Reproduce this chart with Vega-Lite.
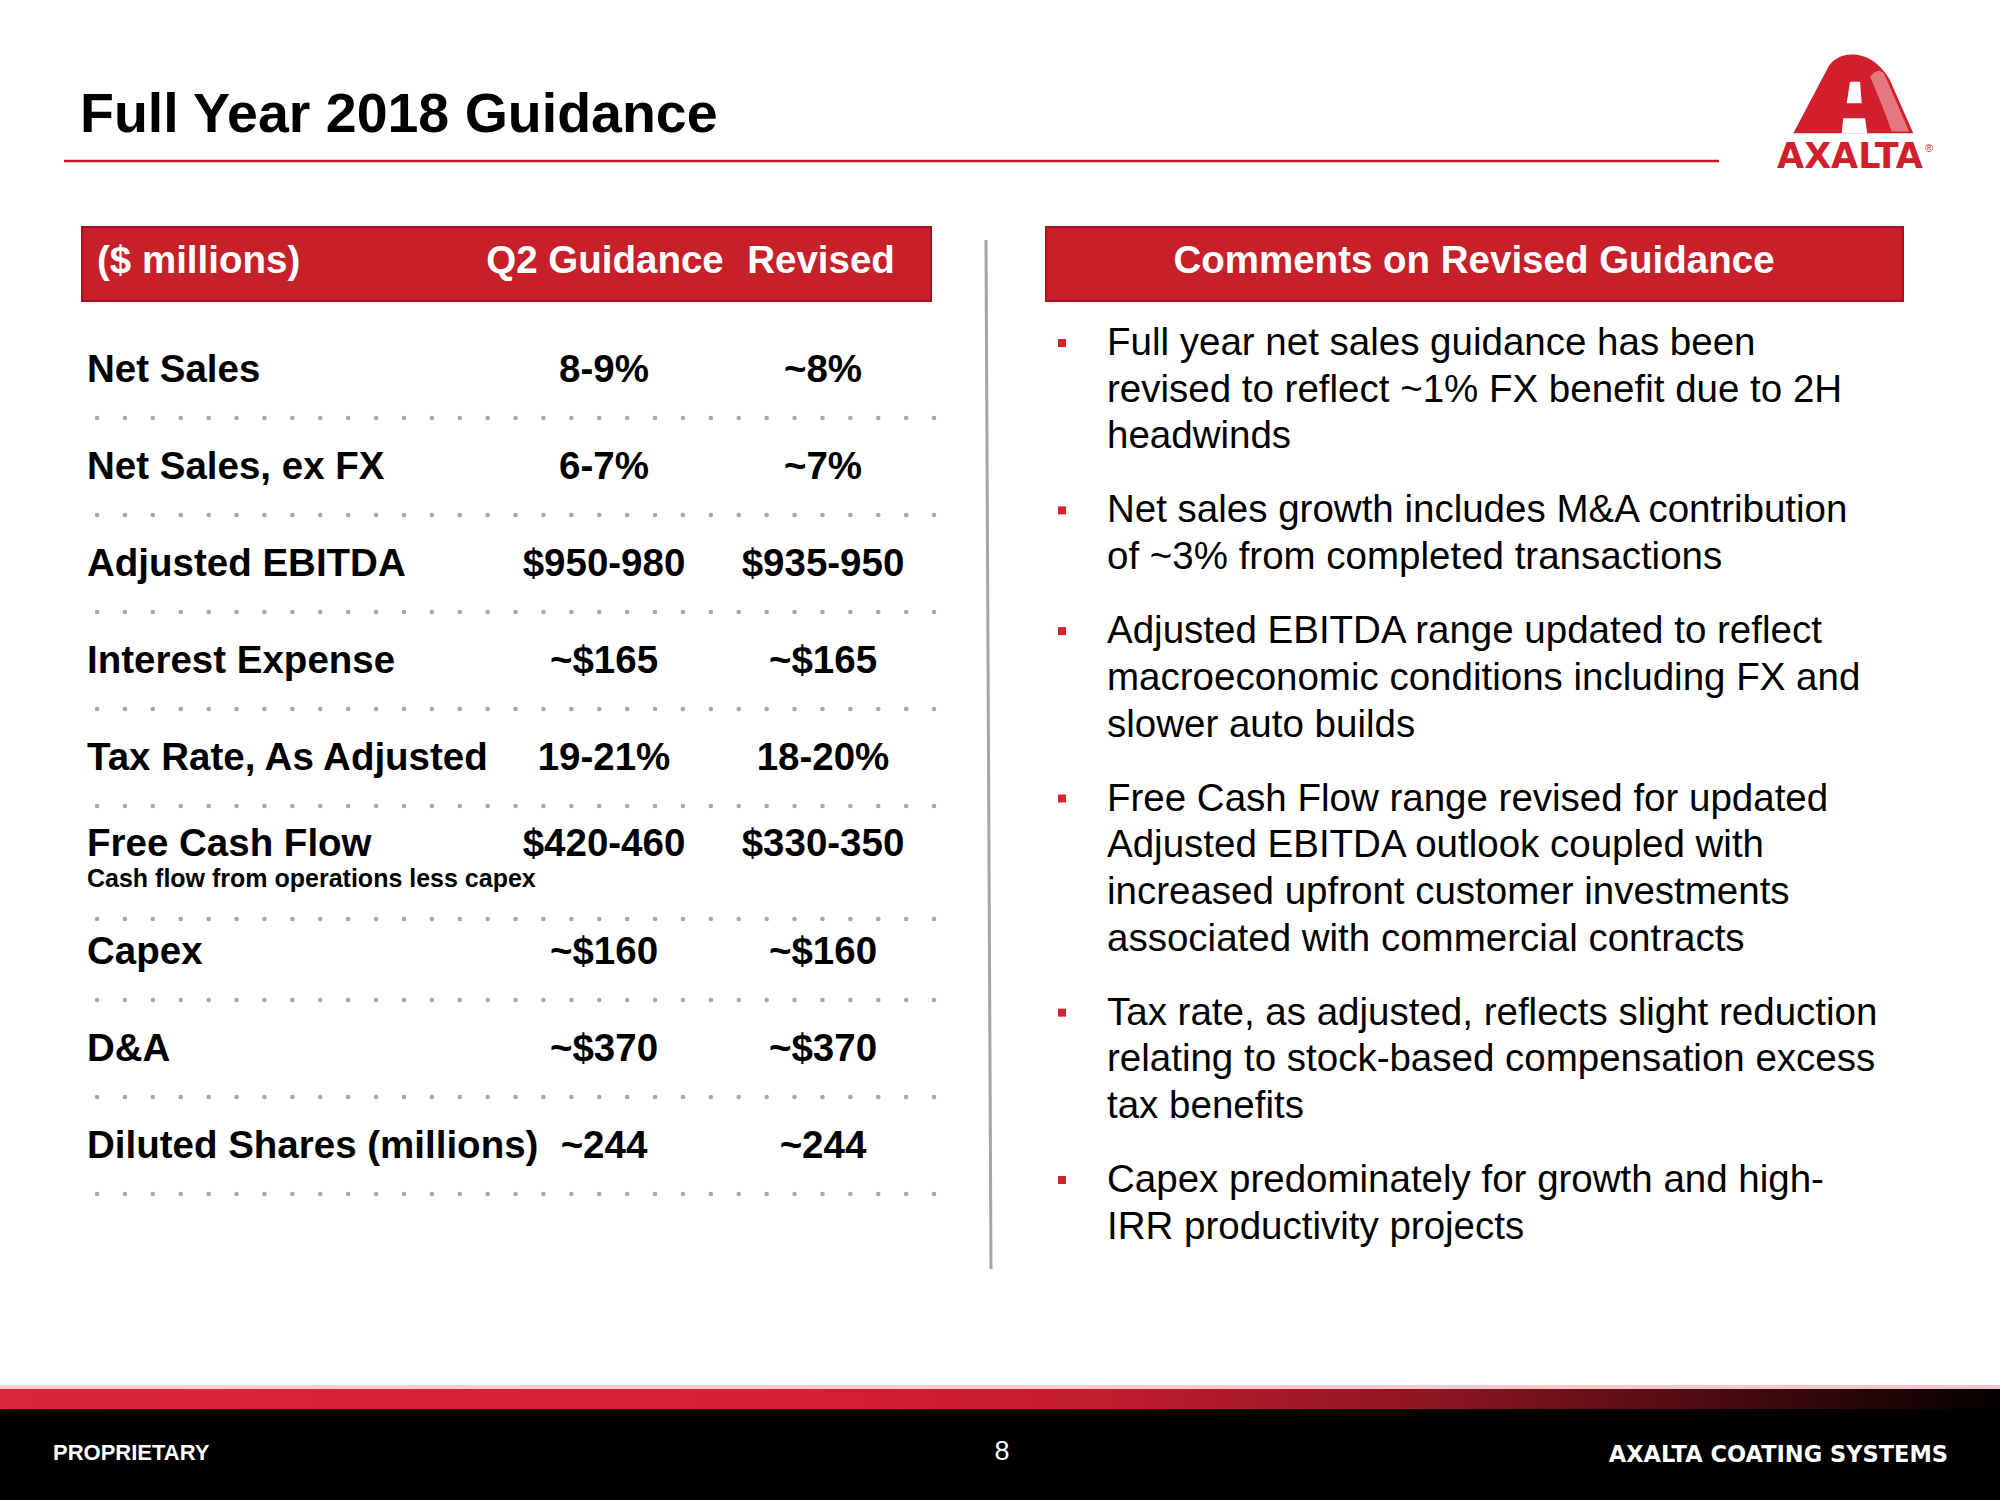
{
  "$schema": "https://vega.github.io/schema/vega-lite/v6.json",
  "width": 2000,
  "height": 1500,
  "padding": 0,
  "autosize": {"type": "fit", "contains": "padding"},
  "background": "#ffffff",
  "config": {"view": {"stroke": null}, "font": "Liberation Sans"},
  "datasets": {
    "guidance": [
      {"row": 1, "metric": "Net Sales", "q2": "8-9%", "revised": "~8%"},
      {"row": 2, "metric": "Net Sales, ex FX", "q2": "6-7%", "revised": "~7%"},
      {"row": 3, "metric": "Adjusted EBITDA", "q2": "$950-980", "revised": "$935-950"},
      {"row": 4, "metric": "Interest Expense", "q2": "~$165", "revised": "~$165"},
      {"row": 5, "metric": "Tax Rate, As Adjusted", "q2": "19-21%", "revised": "18-20%"},
      {"row": 6, "metric": "Free Cash Flow", "q2": "$420-460", "revised": "$330-350", "note": "Cash flow from operations less capex"},
      {"row": 7, "metric": "Capex", "q2": "~$160", "revised": "~$160"},
      {"row": 8, "metric": "D&A", "q2": "~$370", "revised": "~$370"},
      {"row": 9, "metric": "Diluted Shares (millions)", "q2": "~244", "revised": "~244"}
    ],
    "comments": [
      {"bullet": 1, "line": 1, "n": 1, "text": "Full year net sales guidance has been"},
      {"bullet": 1, "line": 2, "n": 2, "text": "revised to reflect ~1% FX benefit due to 2H"},
      {"bullet": 1, "line": 3, "n": 3, "text": "headwinds"},
      {"bullet": 2, "line": 1, "n": 4, "text": "Net sales growth includes M&A contribution"},
      {"bullet": 2, "line": 2, "n": 5, "text": "of ~3% from completed transactions"},
      {"bullet": 3, "line": 1, "n": 6, "text": "Adjusted EBITDA range updated to reflect"},
      {"bullet": 3, "line": 2, "n": 7, "text": "macroeconomic conditions including FX and"},
      {"bullet": 3, "line": 3, "n": 8, "text": "slower auto builds"},
      {"bullet": 4, "line": 1, "n": 9, "text": "Free Cash Flow range revised for updated"},
      {"bullet": 4, "line": 2, "n": 10, "text": "Adjusted EBITDA outlook coupled with"},
      {"bullet": 4, "line": 3, "n": 11, "text": "increased upfront customer investments"},
      {"bullet": 4, "line": 4, "n": 12, "text": "associated with commercial contracts"},
      {"bullet": 5, "line": 1, "n": 13, "text": "Tax rate, as adjusted, reflects slight reduction"},
      {"bullet": 5, "line": 2, "n": 14, "text": "relating to stock-based compensation excess"},
      {"bullet": 5, "line": 3, "n": 15, "text": "tax benefits"},
      {"bullet": 6, "line": 1, "n": 16, "text": "Capex predominately for growth and high-"},
      {"bullet": 6, "line": 2, "n": 17, "text": "IRR productivity projects"}
    ]
  },
  "resolve": {"scale": {"y": "independent"}},
  "layer": [
    {
      "data": {"values": [{}]},
      "layer": [
        {
          "mark": {"type": "rect", "fill": "#c8202b", "stroke": "#a8141c", "strokeWidth": 2},
          "encoding": {
            "x": {"datum": 82, "type": "quantitative", "scale": {"domain": [0, 2000], "nice": false, "zero": false}, "axis": null},
            "x2": {"datum": 931},
            "y": {"datum": 227, "type": "quantitative", "scale": {"domain": [0, 1500], "nice": false, "zero": false, "reverse": true}, "axis": null},
            "y2": {"datum": 301}
          }
        },
        {
          "mark": {"type": "rect", "fill": "#c8202b", "stroke": "#a8141c", "strokeWidth": 2},
          "encoding": {
            "x": {"datum": 1046, "type": "quantitative", "scale": {"domain": [0, 2000], "nice": false, "zero": false}, "axis": null},
            "x2": {"datum": 1903},
            "y": {"datum": 227, "type": "quantitative", "scale": {"domain": [0, 1500], "nice": false, "zero": false, "reverse": true}, "axis": null},
            "y2": {"datum": 301}
          }
        },
        {
          "mark": {"type": "text", "text": "($ millions)", "align": "left", "baseline": "middle", "fontSize": 38.5, "fontWeight": "bold", "fill": "#ffffff"},
          "encoding": {
            "x": {"datum": 97, "type": "quantitative", "scale": {"domain": [0, 2000], "nice": false, "zero": false}, "axis": null},
            "y": {"datum": 261, "type": "quantitative", "scale": {"domain": [0, 1500], "nice": false, "zero": false, "reverse": true}, "axis": null}
          }
        },
        {
          "mark": {"type": "text", "text": "Q2 Guidance", "align": "center", "baseline": "middle", "fontSize": 38.5, "fontWeight": "bold", "fill": "#ffffff"},
          "encoding": {
            "x": {"datum": 605, "type": "quantitative", "scale": {"domain": [0, 2000], "nice": false, "zero": false}, "axis": null},
            "y": {"datum": 261, "type": "quantitative", "scale": {"domain": [0, 1500], "nice": false, "zero": false, "reverse": true}, "axis": null}
          }
        },
        {
          "mark": {"type": "text", "text": "Revised", "align": "center", "baseline": "middle", "fontSize": 38.5, "fontWeight": "bold", "fill": "#ffffff"},
          "encoding": {
            "x": {"datum": 821, "type": "quantitative", "scale": {"domain": [0, 2000], "nice": false, "zero": false}, "axis": null},
            "y": {"datum": 261, "type": "quantitative", "scale": {"domain": [0, 1500], "nice": false, "zero": false, "reverse": true}, "axis": null}
          }
        },
        {
          "mark": {"type": "text", "text": "Comments on Revised Guidance", "align": "center", "baseline": "middle", "fontSize": 38.5, "fontWeight": "bold", "fill": "#ffffff"},
          "encoding": {
            "x": {"datum": 1474, "type": "quantitative", "scale": {"domain": [0, 2000], "nice": false, "zero": false}, "axis": null},
            "y": {"datum": 261, "type": "quantitative", "scale": {"domain": [0, 1500], "nice": false, "zero": false, "reverse": true}, "axis": null}
          }
        },
        {
          "mark": {"type": "text", "text": "Full Year 2018 Guidance", "align": "left", "baseline": "alphabetic", "fontSize": 55.5, "fontWeight": "bold", "fill": "#000000"},
          "encoding": {
            "x": {"datum": 80, "type": "quantitative", "scale": {"domain": [0, 2000], "nice": false, "zero": false}, "axis": null},
            "y": {"datum": 132, "type": "quantitative", "scale": {"domain": [0, 1500], "nice": false, "zero": false, "reverse": true}, "axis": null}
          }
        },
        {
          "mark": {"type": "rule", "stroke": "#c8102e", "strokeWidth": 2.5},
          "encoding": {
            "x": {"datum": 64, "type": "quantitative", "scale": {"domain": [0, 2000], "nice": false, "zero": false}, "axis": null},
            "x2": {"datum": 1719},
            "y": {"datum": 161, "type": "quantitative", "scale": {"domain": [0, 1500], "nice": false, "zero": false, "reverse": true}, "axis": null}
          }
        },
        {
          "mark": {"type": "rule", "stroke": "#a6a6a6", "strokeWidth": 3},
          "encoding": {
            "x": {"datum": 986, "type": "quantitative", "scale": {"domain": [0, 2000], "nice": false, "zero": false}, "axis": null},
            "x2": {"datum": 991},
            "y": {"datum": 240, "type": "quantitative", "scale": {"domain": [0, 1500], "nice": false, "zero": false, "reverse": true}, "axis": null},
            "y2": {"datum": 1269}
          }
        },
        {
          "mark": {"type": "point", "shape": "M -1 0.652 L -0.443 -0.403 C -0.3 -0.75 0.3 -0.8 0.61 -0.237 L 1 0.652 Z", "size": 14400, "filled": true, "fill": "#d21f2e", "strokeWidth": 0, "opacity": 1},
          "encoding": {
            "x": {"datum": 1853.3, "type": "quantitative", "scale": {"domain": [0, 2000], "nice": false, "zero": false}, "axis": null},
            "y": {"datum": 94.2, "type": "quantitative", "scale": {"domain": [0, 1500], "nice": false, "zero": false, "reverse": true}, "axis": null}
          }
        },
        {
          "mark": {"type": "point", "shape": "M 0.28 -0.29 Q 0.42 -0.47 0.52 -0.33 L 0.93 0.62 L 0.64 0.62 Q 0.45 0.1 0.28 -0.29 Z", "size": 14400, "filled": true, "fill": "#ffffff", "strokeWidth": 0, "opacity": 0.4},
          "encoding": {
            "x": {"datum": 1853.3, "type": "quantitative", "scale": {"domain": [0, 2000], "nice": false, "zero": false}, "axis": null},
            "y": {"datum": 94.2, "type": "quantitative", "scale": {"domain": [0, 1500], "nice": false, "zero": false, "reverse": true}, "axis": null}
          }
        },
        {
          "mark": {"type": "point", "shape": "M -0.055 -0.208 L 0.112 -0.208 L 0.14 0.152 L -0.11 0.152 Z M -0.167 0.402 L 0.195 0.402 L 0.233 0.652 L -0.193 0.652 Z", "size": 14400, "filled": true, "fill": "#ffffff", "strokeWidth": 0, "opacity": 1},
          "encoding": {
            "x": {"datum": 1853.3, "type": "quantitative", "scale": {"domain": [0, 2000], "nice": false, "zero": false}, "axis": null},
            "y": {"datum": 94.2, "type": "quantitative", "scale": {"domain": [0, 1500], "nice": false, "zero": false, "reverse": true}, "axis": null}
          }
        },
        {
          "mark": {"type": "text", "text": "AXALTA", "align": "center", "baseline": "alphabetic", "font": "DejaVu Sans", "fontSize": 35, "fontWeight": "bold", "fill": "#d21f2e"},
          "encoding": {
            "x": {"datum": 1850, "type": "quantitative", "scale": {"domain": [0, 2000], "nice": false, "zero": false}, "axis": null},
            "y": {"datum": 168, "type": "quantitative", "scale": {"domain": [0, 1500], "nice": false, "zero": false, "reverse": true}, "axis": null}
          }
        },
        {
          "mark": {"type": "text", "text": "®", "align": "left", "baseline": "top", "fontSize": 11, "fill": "#d21f2e"},
          "encoding": {
            "x": {"datum": 1925, "type": "quantitative", "scale": {"domain": [0, 2000], "nice": false, "zero": false}, "axis": null},
            "y": {"datum": 143, "type": "quantitative", "scale": {"domain": [0, 1500], "nice": false, "zero": false, "reverse": true}, "axis": null}
          }
        },
        {
          "mark": {"type": "rect", "fill": {"gradient": "linear", "stops": [{"offset": 0, "color": "#f6d3d7"}, {"offset": 1, "color": "#f2c4c9"}]}},
          "encoding": {
            "x": {"datum": 0, "type": "quantitative", "scale": {"domain": [0, 2000], "nice": false, "zero": false}, "axis": null},
            "x2": {"datum": 2000},
            "y": {"datum": 1385, "type": "quantitative", "scale": {"domain": [0, 1500], "nice": false, "zero": false, "reverse": true}, "axis": null},
            "y2": {"datum": 1389}
          }
        },
        {
          "mark": {"type": "rect", "fill": {"gradient": "linear", "stops": [{"offset": 0, "color": "#d8263a"}, {"offset": 0.4, "color": "#d61f32"}, {"offset": 0.55, "color": "#c21d2d"}, {"offset": 0.72, "color": "#8c1520"}, {"offset": 0.87, "color": "#450a0e"}, {"offset": 1, "color": "#050000"}]}},
          "encoding": {
            "x": {"datum": 0, "type": "quantitative", "scale": {"domain": [0, 2000], "nice": false, "zero": false}, "axis": null},
            "x2": {"datum": 2000},
            "y": {"datum": 1389, "type": "quantitative", "scale": {"domain": [0, 1500], "nice": false, "zero": false, "reverse": true}, "axis": null},
            "y2": {"datum": 1409}
          }
        },
        {
          "mark": {"type": "rect", "fill": "#000000"},
          "encoding": {
            "x": {"datum": 0, "type": "quantitative", "scale": {"domain": [0, 2000], "nice": false, "zero": false}, "axis": null},
            "x2": {"datum": 2000},
            "y": {"datum": 1409, "type": "quantitative", "scale": {"domain": [0, 1500], "nice": false, "zero": false, "reverse": true}, "axis": null},
            "y2": {"datum": 1500}
          }
        },
        {
          "mark": {"type": "text", "text": "PROPRIETARY", "align": "left", "baseline": "middle", "fontSize": 22, "fontWeight": "bold", "fill": "#ffffff"},
          "encoding": {
            "x": {"datum": 53, "type": "quantitative", "scale": {"domain": [0, 2000], "nice": false, "zero": false}, "axis": null},
            "y": {"datum": 1453, "type": "quantitative", "scale": {"domain": [0, 1500], "nice": false, "zero": false, "reverse": true}, "axis": null}
          }
        },
        {
          "mark": {"type": "text", "text": "8", "align": "center", "baseline": "middle", "fontSize": 27, "fill": "#ffffff"},
          "encoding": {
            "x": {"datum": 1002, "type": "quantitative", "scale": {"domain": [0, 2000], "nice": false, "zero": false}, "axis": null},
            "y": {"datum": 1452, "type": "quantitative", "scale": {"domain": [0, 1500], "nice": false, "zero": false, "reverse": true}, "axis": null}
          }
        },
        {
          "mark": {"type": "text", "text": "AXALTA COATING SYSTEMS", "align": "right", "baseline": "middle", "font": "DejaVu Sans", "fontSize": 22.5, "fontWeight": "bold", "fill": "#ffffff"},
          "encoding": {
            "x": {"datum": 1948, "type": "quantitative", "scale": {"domain": [0, 2000], "nice": false, "zero": false}, "axis": null},
            "y": {"datum": 1455, "type": "quantitative", "scale": {"domain": [0, 1500], "nice": false, "zero": false, "reverse": true}, "axis": null}
          }
        }
      ]
    },
    {
      "data": {"name": "guidance"},
      "layer": [
        {
          "transform": [{"filter": "datum.row != 6"}],
          "layer": [
            {
              "mark": {"type": "text", "align": "left", "baseline": "middle", "fontSize": 38.5, "fontWeight": "bold", "fill": "#000000"},
              "encoding": {
                "x": {"datum": 87, "type": "quantitative", "scale": {"domain": [0, 2000], "nice": false, "zero": false}, "axis": null},
                "y": {"field": "row", "type": "quantitative", "scale": {"domain": [1, 9], "range": [370, 1146], "nice": false, "zero": false}, "axis": null},
                "text": {"field": "metric"}
              }
            },
            {
              "mark": {"type": "text", "align": "center", "baseline": "middle", "fontSize": 38.5, "fontWeight": "bold", "fill": "#000000"},
              "encoding": {
                "x": {"datum": 604, "type": "quantitative", "scale": {"domain": [0, 2000], "nice": false, "zero": false}, "axis": null},
                "y": {"field": "row", "type": "quantitative", "scale": {"domain": [1, 9], "range": [370, 1146], "nice": false, "zero": false}, "axis": null},
                "text": {"field": "q2"}
              }
            },
            {
              "mark": {"type": "text", "align": "center", "baseline": "middle", "fontSize": 38.5, "fontWeight": "bold", "fill": "#000000"},
              "encoding": {
                "x": {"datum": 823, "type": "quantitative", "scale": {"domain": [0, 2000], "nice": false, "zero": false}, "axis": null},
                "y": {"field": "row", "type": "quantitative", "scale": {"domain": [1, 9], "range": [370, 1146], "nice": false, "zero": false}, "axis": null},
                "text": {"field": "revised"}
              }
            },
            {
              "mark": {"type": "rule", "stroke": "#a8a8a8", "strokeWidth": 4.5, "strokeCap": "round", "strokeDash": [0.1, 27.8], "yOffset": 48},
              "encoding": {
                "x": {"datum": 97, "type": "quantitative", "scale": {"domain": [0, 2000], "nice": false, "zero": false}, "axis": null},
                "x2": {"datum": 935},
                "y": {"field": "row", "type": "quantitative", "scale": {"domain": [1, 9], "range": [370, 1146], "nice": false, "zero": false}, "axis": null}
              }
            }
          ]
        },
        {
          "transform": [{"filter": "datum.row == 6"}],
          "layer": [
            {
              "mark": {"type": "text", "align": "left", "baseline": "middle", "fontSize": 38.5, "fontWeight": "bold", "fill": "#000000", "yOffset": -11},
              "encoding": {
                "x": {"datum": 87, "type": "quantitative", "scale": {"domain": [0, 2000], "nice": false, "zero": false}, "axis": null},
                "y": {"field": "row", "type": "quantitative", "scale": {"domain": [1, 9], "range": [370, 1146], "nice": false, "zero": false}, "axis": null},
                "text": {"field": "metric"}
              }
            },
            {
              "mark": {"type": "text", "align": "left", "baseline": "middle", "fontSize": 25, "fontWeight": "bold", "fill": "#000000", "yOffset": 24},
              "encoding": {
                "x": {"datum": 87, "type": "quantitative", "scale": {"domain": [0, 2000], "nice": false, "zero": false}, "axis": null},
                "y": {"field": "row", "type": "quantitative", "scale": {"domain": [1, 9], "range": [370, 1146], "nice": false, "zero": false}, "axis": null},
                "text": {"field": "note"}
              }
            },
            {
              "mark": {"type": "text", "align": "center", "baseline": "middle", "fontSize": 38.5, "fontWeight": "bold", "fill": "#000000", "yOffset": -11},
              "encoding": {
                "x": {"datum": 604, "type": "quantitative", "scale": {"domain": [0, 2000], "nice": false, "zero": false}, "axis": null},
                "y": {"field": "row", "type": "quantitative", "scale": {"domain": [1, 9], "range": [370, 1146], "nice": false, "zero": false}, "axis": null},
                "text": {"field": "q2"}
              }
            },
            {
              "mark": {"type": "text", "align": "center", "baseline": "middle", "fontSize": 38.5, "fontWeight": "bold", "fill": "#000000", "yOffset": -11},
              "encoding": {
                "x": {"datum": 823, "type": "quantitative", "scale": {"domain": [0, 2000], "nice": false, "zero": false}, "axis": null},
                "y": {"field": "row", "type": "quantitative", "scale": {"domain": [1, 9], "range": [370, 1146], "nice": false, "zero": false}, "axis": null},
                "text": {"field": "revised"}
              }
            },
            {
              "mark": {"type": "rule", "stroke": "#a8a8a8", "strokeWidth": 4.5, "strokeCap": "round", "strokeDash": [0.1, 27.8], "yOffset": 64},
              "encoding": {
                "x": {"datum": 97, "type": "quantitative", "scale": {"domain": [0, 2000], "nice": false, "zero": false}, "axis": null},
                "x2": {"datum": 935},
                "y": {"field": "row", "type": "quantitative", "scale": {"domain": [1, 9], "range": [370, 1146], "nice": false, "zero": false}, "axis": null}
              }
            }
          ]
        }
      ]
    },
    {
      "data": {"name": "comments"},
      "layer": [
        {
          "transform": [{"filter": "datum.bullet == 1"}],
          "layer": [
            {
              "mark": {"type": "text", "align": "left", "baseline": "middle", "fontSize": 38.5, "fill": "#000000", "yOffset": 0},
              "encoding": {
                "x": {"datum": 1107, "type": "quantitative", "scale": {"domain": [0, 2000], "nice": false, "zero": false}, "axis": null},
                "y": {"field": "n", "type": "quantitative", "scale": {"domain": [1, 17], "range": [343, 1090.2], "nice": false, "zero": false}, "axis": null},
                "text": {"field": "text"}
              }
            },
            {
              "transform": [{"filter": "datum.line == 1"}],
              "mark": {"type": "point", "shape": "square", "size": 64, "filled": true, "fill": "#d9222f", "strokeWidth": 0, "opacity": 1, "yOffset": 0},
              "encoding": {
                "x": {"datum": 1062, "type": "quantitative", "scale": {"domain": [0, 2000], "nice": false, "zero": false}, "axis": null},
                "y": {"field": "n", "type": "quantitative", "scale": {"domain": [1, 17], "range": [343, 1090.2], "nice": false, "zero": false}, "axis": null}
              }
            }
          ]
        },
        {
          "transform": [{"filter": "datum.bullet == 2"}],
          "layer": [
            {
              "mark": {"type": "text", "align": "left", "baseline": "middle", "fontSize": 38.5, "fill": "#000000", "yOffset": 27.3},
              "encoding": {
                "x": {"datum": 1107, "type": "quantitative", "scale": {"domain": [0, 2000], "nice": false, "zero": false}, "axis": null},
                "y": {"field": "n", "type": "quantitative", "scale": {"domain": [1, 17], "range": [343, 1090.2], "nice": false, "zero": false}, "axis": null},
                "text": {"field": "text"}
              }
            },
            {
              "transform": [{"filter": "datum.line == 1"}],
              "mark": {"type": "point", "shape": "square", "size": 64, "filled": true, "fill": "#d9222f", "strokeWidth": 0, "opacity": 1, "yOffset": 27.3},
              "encoding": {
                "x": {"datum": 1062, "type": "quantitative", "scale": {"domain": [0, 2000], "nice": false, "zero": false}, "axis": null},
                "y": {"field": "n", "type": "quantitative", "scale": {"domain": [1, 17], "range": [343, 1090.2], "nice": false, "zero": false}, "axis": null}
              }
            }
          ]
        },
        {
          "transform": [{"filter": "datum.bullet == 3"}],
          "layer": [
            {
              "mark": {"type": "text", "align": "left", "baseline": "middle", "fontSize": 38.5, "fill": "#000000", "yOffset": 54.6},
              "encoding": {
                "x": {"datum": 1107, "type": "quantitative", "scale": {"domain": [0, 2000], "nice": false, "zero": false}, "axis": null},
                "y": {"field": "n", "type": "quantitative", "scale": {"domain": [1, 17], "range": [343, 1090.2], "nice": false, "zero": false}, "axis": null},
                "text": {"field": "text"}
              }
            },
            {
              "transform": [{"filter": "datum.line == 1"}],
              "mark": {"type": "point", "shape": "square", "size": 64, "filled": true, "fill": "#d9222f", "strokeWidth": 0, "opacity": 1, "yOffset": 54.6},
              "encoding": {
                "x": {"datum": 1062, "type": "quantitative", "scale": {"domain": [0, 2000], "nice": false, "zero": false}, "axis": null},
                "y": {"field": "n", "type": "quantitative", "scale": {"domain": [1, 17], "range": [343, 1090.2], "nice": false, "zero": false}, "axis": null}
              }
            }
          ]
        },
        {
          "transform": [{"filter": "datum.bullet == 4"}],
          "layer": [
            {
              "mark": {"type": "text", "align": "left", "baseline": "middle", "fontSize": 38.5, "fill": "#000000", "yOffset": 81.9},
              "encoding": {
                "x": {"datum": 1107, "type": "quantitative", "scale": {"domain": [0, 2000], "nice": false, "zero": false}, "axis": null},
                "y": {"field": "n", "type": "quantitative", "scale": {"domain": [1, 17], "range": [343, 1090.2], "nice": false, "zero": false}, "axis": null},
                "text": {"field": "text"}
              }
            },
            {
              "transform": [{"filter": "datum.line == 1"}],
              "mark": {"type": "point", "shape": "square", "size": 64, "filled": true, "fill": "#d9222f", "strokeWidth": 0, "opacity": 1, "yOffset": 81.9},
              "encoding": {
                "x": {"datum": 1062, "type": "quantitative", "scale": {"domain": [0, 2000], "nice": false, "zero": false}, "axis": null},
                "y": {"field": "n", "type": "quantitative", "scale": {"domain": [1, 17], "range": [343, 1090.2], "nice": false, "zero": false}, "axis": null}
              }
            }
          ]
        },
        {
          "transform": [{"filter": "datum.bullet == 5"}],
          "layer": [
            {
              "mark": {"type": "text", "align": "left", "baseline": "middle", "fontSize": 38.5, "fill": "#000000", "yOffset": 109.2},
              "encoding": {
                "x": {"datum": 1107, "type": "quantitative", "scale": {"domain": [0, 2000], "nice": false, "zero": false}, "axis": null},
                "y": {"field": "n", "type": "quantitative", "scale": {"domain": [1, 17], "range": [343, 1090.2], "nice": false, "zero": false}, "axis": null},
                "text": {"field": "text"}
              }
            },
            {
              "transform": [{"filter": "datum.line == 1"}],
              "mark": {"type": "point", "shape": "square", "size": 64, "filled": true, "fill": "#d9222f", "strokeWidth": 0, "opacity": 1, "yOffset": 109.2},
              "encoding": {
                "x": {"datum": 1062, "type": "quantitative", "scale": {"domain": [0, 2000], "nice": false, "zero": false}, "axis": null},
                "y": {"field": "n", "type": "quantitative", "scale": {"domain": [1, 17], "range": [343, 1090.2], "nice": false, "zero": false}, "axis": null}
              }
            }
          ]
        },
        {
          "transform": [{"filter": "datum.bullet == 6"}],
          "layer": [
            {
              "mark": {"type": "text", "align": "left", "baseline": "middle", "fontSize": 38.5, "fill": "#000000", "yOffset": 136.5},
              "encoding": {
                "x": {"datum": 1107, "type": "quantitative", "scale": {"domain": [0, 2000], "nice": false, "zero": false}, "axis": null},
                "y": {"field": "n", "type": "quantitative", "scale": {"domain": [1, 17], "range": [343, 1090.2], "nice": false, "zero": false}, "axis": null},
                "text": {"field": "text"}
              }
            },
            {
              "transform": [{"filter": "datum.line == 1"}],
              "mark": {"type": "point", "shape": "square", "size": 64, "filled": true, "fill": "#d9222f", "strokeWidth": 0, "opacity": 1, "yOffset": 136.5},
              "encoding": {
                "x": {"datum": 1062, "type": "quantitative", "scale": {"domain": [0, 2000], "nice": false, "zero": false}, "axis": null},
                "y": {"field": "n", "type": "quantitative", "scale": {"domain": [1, 17], "range": [343, 1090.2], "nice": false, "zero": false}, "axis": null}
              }
            }
          ]
        }
      ]
    }
  ]
}
